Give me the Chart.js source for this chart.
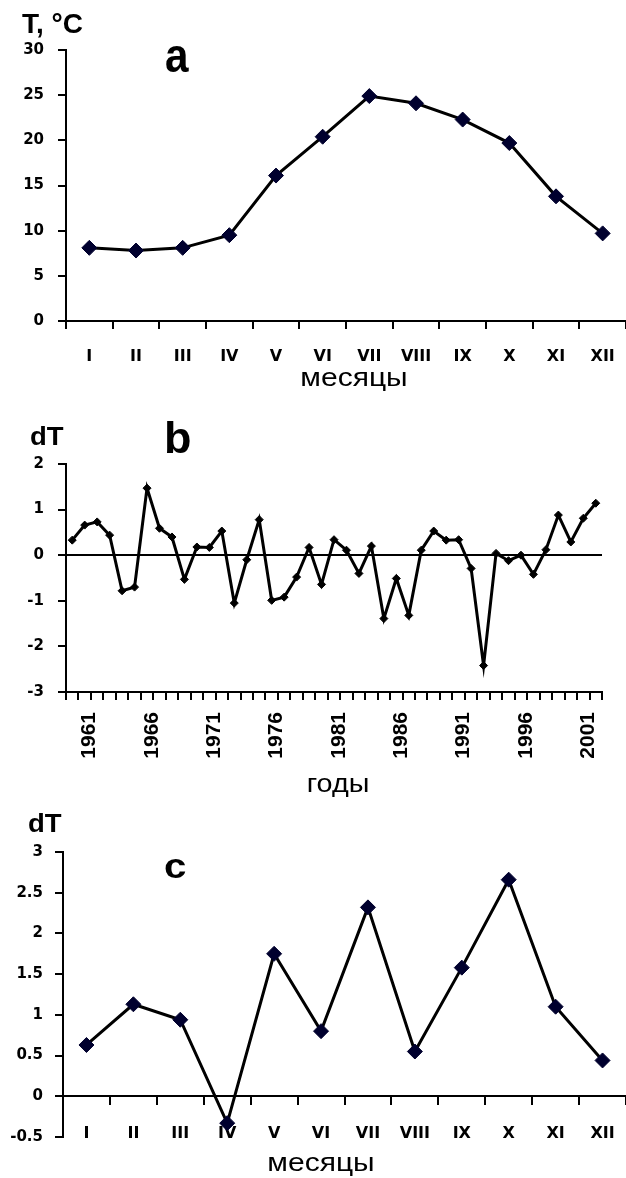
<!DOCTYPE html>
<html><head><meta charset="utf-8">
<script src="https://cdn.jsdelivr.net/npm/chart.js@4.4.1/dist/chart.umd.min.js"></script>
<style>
html,body{margin:0;padding:0;background:#fff;width:626px;height:1178px;overflow:hidden}
canvas{position:absolute;left:0}
</style></head><body>
<canvas id="ca" width="626" height="400" style="top:0"></canvas>
<canvas id="cb" width="626" height="400" style="top:400px"></canvas>
<canvas id="cc" width="626" height="378" style="top:800px"></canvas>
<script>
// ---- data ----
const months = ['I','II','III','IV','V','VI','VII','VIII','IX','X','XI','XII'];
const meanTemp = [8.1, 7.8, 8.1, 9.5, 16.1, 20.4, 24.9, 24.1, 22.3, 19.7, 13.8, 9.7];
const years = ['1960','1961','1962','1963','1964','1965','1966','1967','1968','1969',
  '1970','1971','1972','1973','1974','1975','1976','1977','1978','1979',
  '1980','1981','1982','1983','1984','1985','1986','1987','1988','1989',
  '1990','1991','1992','1993','1994','1995','1996','1997','1998','1999',
  '2000','2001','2002'];
const yearAnom = [0.33, 0.66, 0.73, 0.44, -0.78, -0.70, 1.47, 0.59, 0.40, -0.53,
  0.18, 0.17, 0.53, -1.05, -0.10, 0.78, -0.99, -0.92, -0.48, 0.17,
  -0.64, 0.34, 0.11, -0.40, 0.20, -1.39, -0.51, -1.32, 0.11, 0.53,
  0.33, 0.34, -0.29, -2.42, 0.04, -0.12, 0.00, -0.42, 0.12, 0.88,
  0.29, 0.81, 1.14];
const yearTickLabels = ['1961','1966','1971','1976','1981','1986','1991','1996','2001'];
const monthTrend = [0.63, 1.13, 0.94, -0.33, 1.75, 0.80, 2.32, 0.55, 1.58, 2.66, 1.10, 0.44];

// ---- styling ----
const TICKF = "'DejaVu Sans', sans-serif";
const TXT = "'Liberation Sans', Arial, sans-serif";
const MARK = '#00002e';
Chart.defaults.color = '#000';

function textPlugin(items){
  return { id:'txt', afterDraw(chart){
    const ctx = chart.ctx;
    items.forEach(t => {
      ctx.save();
      ctx.font = t.font; ctx.fillStyle = '#000';
      ctx.textAlign = t.align || 'left'; ctx.textBaseline = 'alphabetic';
      ctx.translate(t.x, t.y); ctx.scale(t.sx || 1, 1);
      ctx.fillText(t.text, 0, 0);
      ctx.restore();
    });
  }};
}
const noPadX = s => { s.paddingLeft = 0; s.paddingRight = 0; };
const baseOpts = {responsive:false, animation:false, devicePixelRatio:1,
  plugins:{legend:{display:false}, tooltip:{enabled:false}}};

// ---- panel a ----
new Chart(document.getElementById('ca'), {
  type:'line',
  data:{labels:months, datasets:[{data:meanTemp, borderColor:'#000', borderWidth:3,
    pointStyle:'rectRot', pointRadius:7.5, pointBackgroundColor:MARK, pointBorderColor:MARK,
    pointBorderWidth:1, tension:0}]},
  options:Object.assign({}, baseOpts, {
    layout:{autoPadding:false, padding:{top:50,right:0,left:0,bottom:0}},
    scales:{
      x:{offset:true,
        grid:{offset:true, drawOnChartArea:false, color:'#000', lineWidth:2, tickLength:8},
        border:{color:'#000', width:2},
        ticks:{font:{family:TICKF, size:16, weight:'bold', lineHeight:'56px'}, color:'#000', padding:0, maxRotation:0, autoSkip:false},
        afterFit:s => { s.height = 79; noPadX(s); }},
      y:{min:0, max:30,
        ticks:{stepSize:5, font:{family:TICKF, size:15, weight:'bold'}, color:'#000', padding:14},
        grid:{drawOnChartArea:false, color:'#000', lineWidth:2, tickLength:8},
        border:{color:'#000', width:2},
        afterFit:s => { s.width = 66; s.paddingTop = 0; s.paddingBottom = 0; }}
    }}),
  plugins:[textPlugin([
    {text:'T, °C', x:22, y:33, font:"bold 28px "+TXT, sx:1.0},
    {text:'a', x:165, y:72, font:"bold 48px "+TXT, sx:0.88},
    {text:'месяцы', x:354, y:386, font:"25px "+TXT, sx:1.2, align:'center'}
  ])]
});

// ---- panel b ----
new Chart(document.getElementById('cb'), {
  type:'line',
  data:{labels:years, datasets:[{data:yearAnom, borderColor:'#000', borderWidth:3,
    pointStyle:'rectRot', pointRadius:4, pointBackgroundColor:'#000', pointBorderColor:'#000',
    pointBorderWidth:1, tension:0}]},
  options:Object.assign({}, baseOpts, {
    layout:{autoPadding:false, padding:{top:64,right:24,left:0,bottom:0}},
    scales:{
      x:{offset:true,
        grid:{offset:true, drawOnChartArea:false, color:'#000', lineWidth:2, tickLength:8},
        border:{color:'#000', width:2},
        ticks:{font:{family:TXT, size:21, weight:'bold'}, color:'#000', padding:12, labelOffset:5,
          minRotation:90, maxRotation:90, autoSkip:false,
          callback:(v,i) => yearTickLabels.includes(years[i]) ? years[i] : ''},
        afterFit:s => { s.height = 108; noPadX(s); }},
      y:{min:-3, max:2,
        ticks:{stepSize:1, font:{family:TICKF, size:15, weight:'bold'}, color:'#000', padding:14},
        grid:{drawOnChartArea:true, lineWidth:2, tickLength:8, tickColor:'#000',
          color:c => (c.tick && c.tick.value === 0) ? '#000' : 'rgba(0,0,0,0)'},
        border:{color:'#000', width:2},
        afterFit:s => { s.width = 66; s.paddingTop = 0; s.paddingBottom = 0; }}
    }}),
  plugins:[textPlugin([
    {text:'dT', x:30, y:45, font:"bold 25px "+TXT, sx:1.1},
    {text:'b', x:164, y:53, font:"bold 45px "+TXT, sx:1},
    {text:'годы', x:338, y:392, font:"25px "+TXT, sx:1.15, align:'center'}
  ])]
});

// ---- panel c ----
new Chart(document.getElementById('cc'), {
  type:'line',
  data:{labels:months, datasets:[{data:monthTrend, borderColor:'#000', borderWidth:3,
    pointStyle:'rectRot', pointRadius:7.5, pointBackgroundColor:MARK, pointBorderColor:MARK,
    pointBorderWidth:1, tension:0}]},
  options:Object.assign({}, baseOpts, {
    layout:{autoPadding:false, padding:{top:52,right:0,left:0,bottom:41}},
    scales:{
      x:{position:{y:0}, offset:true,
        grid:{offset:true, drawOnChartArea:false, color:'#000', lineWidth:2, tickLength:8},
        border:{color:'#000', width:2},
        ticks:{font:{family:TICKF, size:16, weight:'bold', lineHeight:'59px'}, color:'#000', padding:0, maxRotation:0, autoSkip:false},
        afterFit:s => { noPadX(s); }},
      y:{min:-0.5, max:3,
        ticks:{stepSize:0.5, font:{family:TICKF, size:15, weight:'bold'}, color:'#000', padding:12,
          callback:v => String(Number(v.toFixed(1)))},
        grid:{drawOnChartArea:false, color:'#000', lineWidth:2, tickLength:8},
        border:{color:'#000', width:2},
        afterFit:s => { s.width = 63; s.paddingTop = 0; s.paddingBottom = 0; }}
    }}),
  plugins:[textPlugin([
    {text:'dT', x:28, y:32, font:"bold 25px "+TXT, sx:1.1},
    {text:'c', x:164, y:78, font:"bold 35px "+TXT, sx:1.15},
    {text:'месяцы', x:321, y:371, font:"25px "+TXT, sx:1.2, align:'center'}
  ])]
});
</script>
</body></html>
